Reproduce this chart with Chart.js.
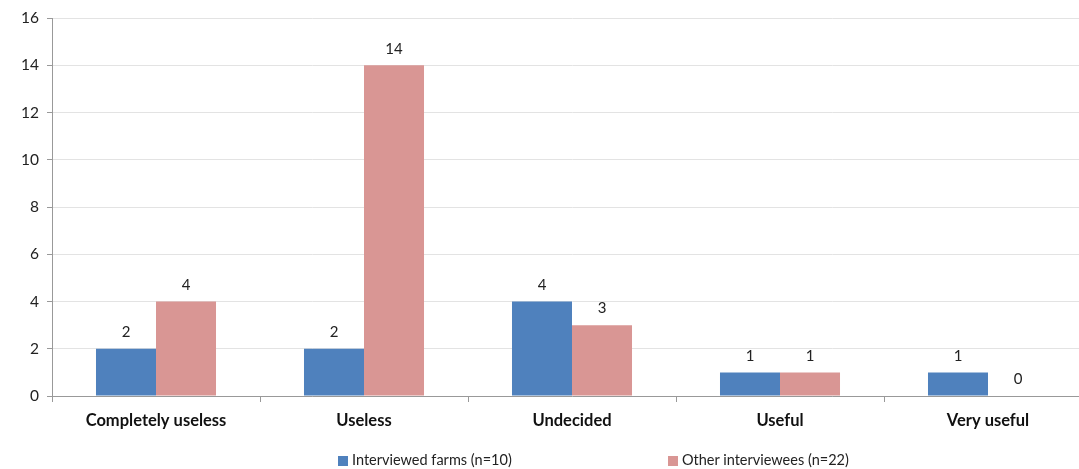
<!DOCTYPE html>
<html>
<head>
<meta charset="utf-8">
<script src="https://cdn.jsdelivr.net/npm/chart.js@4"></script>
<style>
  html, body { margin: 0; padding: 0; background: #fff; overflow: hidden; }
  #wrap { position: relative; width: 1100px; height: 469px; }
  .leg { position: absolute; top: 451px; font: 14.5px Lato, sans-serif; color: #222; white-space: nowrap; }
  .leg span { display: inline-block; width: 10px; height: 10px; margin-right: 4px; vertical-align: -1px; }
</style>
</head>
<body>
<div id="wrap">
  <canvas id="chart" width="1100" height="469"></canvas>
  <div class="leg" style="left:338px"><span style="background:#4F81BD"></span>Interviewed farms (n=10)</div>
  <div class="leg" style="left:668px"><span style="background:#D99694"></span>Other interviewees (n=22)</div>
</div>
<script>
// categories and counts
const categories = ["Completely useless", "Useless", "Undecided", "Useful", "Very useful"];
const farms = [2, 2, 4, 1, 1];
const others = [4, 14, 3, 1, 0];
const yTicks = [0, 2, 4, 6, 8, 10, 12, 14, 16];

// draws the numbers above the bars
const valueLabels = {
  id: "valueLabels",
  afterDatasetsDraw(chart) {
    const ctx = chart.ctx;
    ctx.save();
    ctx.font = "15px Lato, sans-serif";
    ctx.fillStyle = "#222";
    ctx.textAlign = "center";
    ctx.textBaseline = "bottom";
    chart.data.datasets.forEach((ds, i) => {
      chart.getDatasetMeta(i).data.forEach((bar, j) => {
        ctx.fillText(ds.data[j], bar.x, bar.y - 9);
      });
    });
    ctx.restore();
  }
};

const ctx = document.getElementById("chart");
new Chart(ctx, {
  type: "bar",
  data: {
    labels: categories,
    datasets: [{
      label: "Interviewed farms (n=10)",
      data: farms,
      backgroundColor: "#4F81BD"
    }, {
      label: "Other interviewees (n=22)",
      data: others,
      backgroundColor: "#D99694"
    }]
  },
  options: {
    responsive: false,
    animation: false,
    layout: { padding: { top: 18, right: 8, left: 0, bottom: 0 } },
    datasets: { bar: { barPercentage: 1, categoryPercentage: 0.577 } },
    plugins: {
      legend: { display: false },
      tooltip: { enabled: false }
    },
    scales: {
      x: {
        afterFit: (s) => { s.height = 73; },
        grid: { drawOnChartArea: false, tickLength: 6, color: "#999" },
        border: { color: "#999" },
        ticks: {
          color: "#111",
          font: { family: "Lato", size: 16.5, weight: "bold" },
          padding: 9
        }
      },
      y: {
        min: 0,
        max: 16,
        afterFit: (s) => { s.width = 52; },
        afterBuildTicks: (s) => { s.ticks = yTicks.map(v => ({ value: v })); },
        grid: { color: "#e3e3e3", tickLength: 5, tickColor: "#999" },
        border: { color: "#999" },
        ticks: {
          color: "#222",
          font: { family: "Lato", size: 15.5 },
          padding: 8
        }
      }
    }
  },
  plugins: [valueLabels]
});
</script>
</body>
</html>
